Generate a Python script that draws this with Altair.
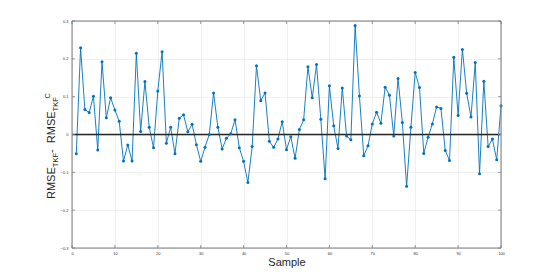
import altair as alt
import pandas as pd

samples = list(range(1, 101))
values = [
    -0.051, 0.229, 0.066, 0.058, 0.101, -0.041, 0.192, 0.044, 0.097, 0.065,
    0.035, -0.070, -0.028, -0.070, 0.215, 0.008, 0.140, 0.019, -0.035, 0.115,
    0.219, -0.023, 0.019, -0.051, 0.043, 0.052, 0.007, 0.027, -0.027, -0.071,
    -0.034, 0.000, 0.110, 0.019, -0.038, -0.010, 0.002, 0.039, -0.035, -0.071,
    -0.127, -0.032, 0.182, 0.089, 0.110, -0.018, -0.034, -0.012, 0.034, -0.040,
    -0.006, -0.063, 0.013, 0.039, 0.179, 0.097, 0.185, 0.040, -0.117, 0.129,
    0.023, -0.037, 0.123, -0.004, -0.014, 0.288, 0.102, -0.056, -0.030, 0.028,
    0.059, 0.030, 0.125, 0.104, -0.004, 0.148, 0.032, -0.137, 0.019, 0.164,
    0.124, -0.050, -0.007, 0.028, 0.073, 0.069, -0.042, -0.069, 0.204, 0.050,
    0.225, 0.109, 0.046, 0.190, -0.104, 0.141, -0.032, -0.012, -0.067, 0.076,
]
x_ticks = [0, 10, 20, 30, 40, 50, 60, 70, 80, 90, 100]
y_ticks = [-0.3, -0.2, -0.1, 0.0, 0.1, 0.2, 0.3]

W, H = 429, 227
df = pd.DataFrame({"Sample": samples, "value": values})
dx = pd.DataFrame({"t": x_ticks})
dy = pd.DataFrame({"t": y_ticks})

xs = alt.Scale(domain=[0, 100], nice=False)
ys = alt.Scale(domain=[-0.3, 0.3], nice=False)

xaxis = alt.Axis(values=x_ticks, title="Sample", domain=False, ticks=False,
                 labelFontSize=4, labelPadding=3, labelColor="#333",
                 labelOverlap=False, labelFlush=False,
                 titleFontSize=11, titleFontWeight="normal", titleColor="#262626",
                 titlePadding=1, titleFont="Liberation Sans", labelFont="Liberation Sans",
                 gridColor="#e6e6e6", gridWidth=0.6)
yaxis = alt.Axis(values=y_ticks, title="", domain=False, ticks=False,
                 labelFontSize=4, labelPadding=4, labelColor="#333",
                 labelOverlap=False, labelFlush=False, labelBound=False,
                 format=".1~f",
                 labelFont="Liberation Sans",
                 gridColor="#e6e6e6", gridWidth=0.6)

base = alt.Chart(df)
line = base.mark_line(color="#0072BD", strokeWidth=0.9).encode(
    x=alt.X("Sample:Q", scale=xs, axis=xaxis),
    y=alt.Y("value:Q", scale=ys, axis=yaxis),
)
pts = base.mark_circle(color="#0072BD", size=9, opacity=1).encode(
    x=alt.X("Sample:Q", scale=xs, axis=xaxis),
    y=alt.Y("value:Q", scale=ys, axis=yaxis),
)
zero = alt.Chart(pd.DataFrame({"z": [0.0]})).mark_rule(color="#262626", strokeWidth=1.3).encode(
    y=alt.Y("z:Q", scale=ys, axis=yaxis), x=alt.value(0), x2=alt.value(W)
)

tick_col = "#7f7f7f"
tb = alt.Chart(dx).mark_rule(color=tick_col, strokeWidth=0.8).encode(
    x=alt.X("t:Q", scale=xs, axis=xaxis), y=alt.value(H), y2=alt.value(H - 3))
tt = alt.Chart(dx).mark_rule(color=tick_col, strokeWidth=0.8).encode(
    x=alt.X("t:Q", scale=xs, axis=xaxis), y=alt.value(0), y2=alt.value(3))
tl = alt.Chart(dy).mark_rule(color=tick_col, strokeWidth=0.8).encode(
    y=alt.Y("t:Q", scale=ys, axis=yaxis), x=alt.value(0), x2=alt.value(3))
tr = alt.Chart(dy).mark_rule(color=tick_col, strokeWidth=0.8).encode(
    y=alt.Y("t:Q", scale=ys, axis=yaxis), x=alt.value(W), x2=alt.value(W - 3))

box_src = pd.DataFrame({"k": [0]})
box = [
    alt.Chart(box_src).mark_rule(color=tick_col, strokeWidth=1).encode(
        x=alt.value(0), x2=alt.value(W), y=alt.value(0)),
    alt.Chart(box_src).mark_rule(color=tick_col, strokeWidth=1).encode(
        x=alt.value(0), x2=alt.value(W), y=alt.value(H)),
    alt.Chart(box_src).mark_rule(color=tick_col, strokeWidth=1).encode(
        y=alt.value(0), y2=alt.value(H), x=alt.value(0)),
    alt.Chart(box_src).mark_rule(color=tick_col, strokeWidth=1).encode(
        y=alt.value(0), y2=alt.value(H), x=alt.value(W)),
]

# y-axis title composed from pieces (sub/superscripts)
title_parts = [
    ("RMSE", 11, -20, 178),
    ("TKF", 7.5, -16, 146.2),
    (" - ", 11, -20, 132.0),
    ("RMSE", 11, -20, 122.2),
    ("TKF", 7.5, -16, 90.4),
    ("C", 7.5, -24, 77.5),
]
ttl_layers = []
for txt, fs, xx, yy in title_parts:
    ttl_layers.append(
        alt.Chart(pd.DataFrame({"s": [txt]})).mark_text(
            angle=270, align="left", baseline="middle", fontSize=fs,
            font="Liberation Sans", color="#262626"
        ).encode(text="s:N", x=alt.value(xx), y=alt.value(yy))
    )

chart = alt.layer(line, zero, pts, tb, tt, tl, tr, *box, *ttl_layers).properties(
    width=W, height=H,
    autosize=alt.AutoSizeParams(type="none"),
    padding={"left": 64, "top": 13, "right": 30, "bottom": 22},
).configure_view(stroke=None).configure(background="white")

chart.save("out.html", embed_options={"renderer": "svg", "actions": False})
